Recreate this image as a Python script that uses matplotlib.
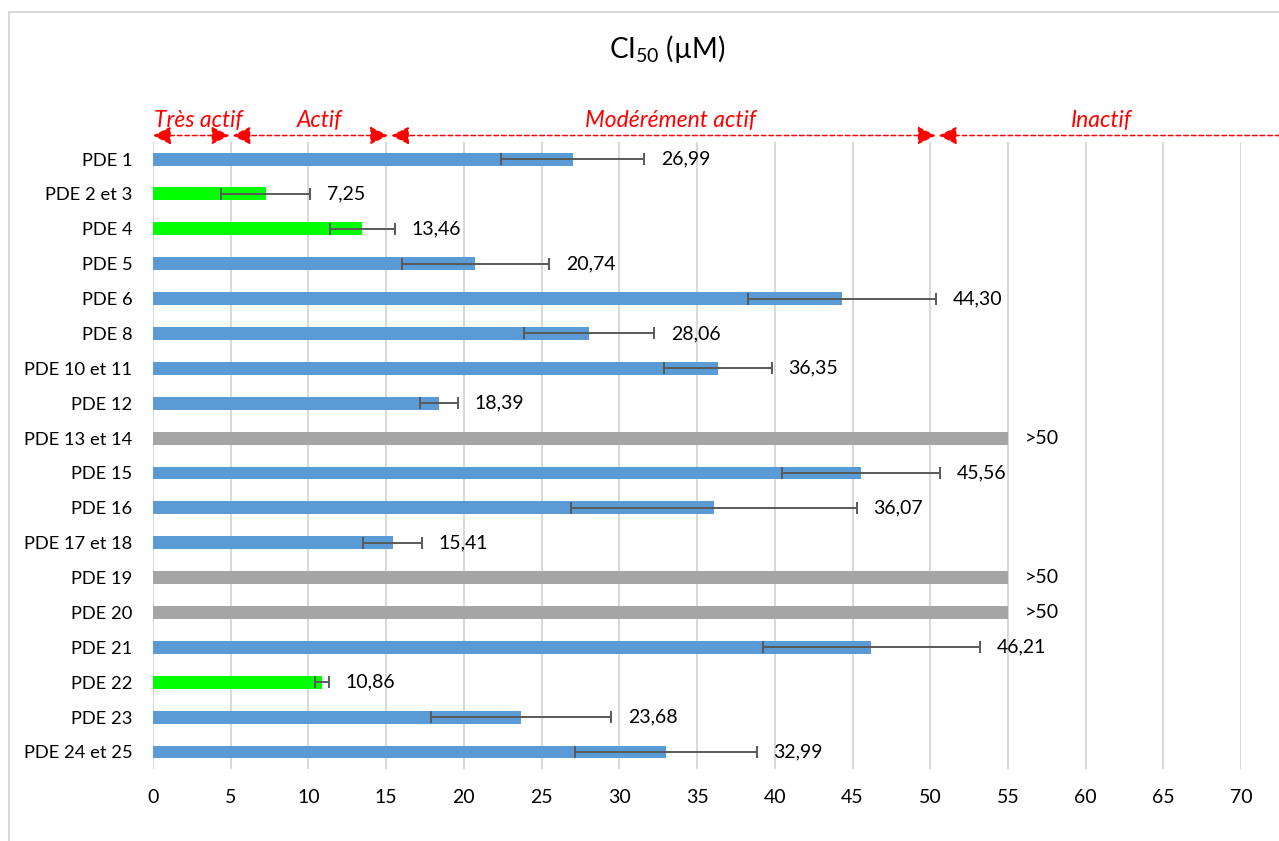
import numpy as np
import matplotlib.pyplot as plt
from matplotlib.patches import Rectangle

plt.rcParams['font.family'] = ['Lato', 'DejaVu Sans']
plt.rcParams['mathtext.fontset'] = 'custom'
plt.rcParams['mathtext.rm'] = 'Lato'
plt.rcParams['mathtext.default'] = 'regular'

# ---------------- donnees ----------------
noms = ['PDE 1', 'PDE 2 et 3', 'PDE 4', 'PDE 5', 'PDE 6', 'PDE 8', 'PDE 10 et 11',
        'PDE 12', 'PDE 13 et 14', 'PDE 15', 'PDE 16', 'PDE 17 et 18', 'PDE 19',
        'PDE 20', 'PDE 21', 'PDE 22', 'PDE 23', 'PDE 24 et 25']
ci50 = [26.99, 7.25, 13.46, 20.74, 44.30, 28.06, 36.35, 18.39, 55, 45.56, 36.07,
        15.41, 55, 55, 46.21, 10.86, 23.68, 32.99]
erreur = [4.6, 2.85, 2.1, 4.75, 6.05, 4.2, 3.45, 1.2, 0, 5.1, 9.2, 1.9, 0, 0,
          7.0, 0.45, 5.8, 5.85]
etiquettes = ['26,99', '7,25', '13,46', '20,74', '44,30', '28,06', '36,35', '18,39', '>50',
              '45,56', '36,07', '15,41', '>50', '>50', '46,21', '10,86', '23,68', '32,99']
groupe = ['m', 't', 'a', 'm', 'm', 'm', 'm', 'm', 'i', 'm', 'm', 'm', 'i', 'i',
          'm', 'a', 'm', 'm']

zones = ['Très actif', 'Actif', 'Modérément actif', 'Inactif']
limites = [0, 5.02, 15.22, 50.45]   # jonctions des fleches telles que dessinees
pos_texte = [2.9, 10.7, 33.3, 61.0]

couleurs = {'m': '#5B9BD5', 't': '#00FF00', 'a': '#00FF00', 'i': '#A5A5A5'}

# ---------------- figure ----------------
fig = plt.figure(figsize=(12.79, 8.41), dpi=100)
ax = fig.add_axes([0.1196, 0.0851, 0.8508, 0.7465])

y = np.arange(len(noms))
cols = [couleurs[g] for g in groupe]
ax.barh(y, ci50, height=0.37, color=cols, zorder=2)

xerr = np.array(erreur)
mask = xerr > 0
ax.errorbar(np.array(ci50)[mask], y[mask], xerr=xerr[mask], fmt='none',
            ecolor='#595959', elinewidth=1.4, capsize=4.3, capthick=1.4, zorder=3)

for i in range(len(noms)):
    fin = ci50[i] + erreur[i]
    ax.annotate(etiquettes[i], xy=(fin, y[i]), xytext=(12, 0), textcoords='offset points',
                va='center', ha='left', fontsize=14, color='black')

ax.set_xlim(0, 70)
ax.set_ylim(len(noms) - 0.5, -0.5)
ax.set_xticks(np.arange(0, 71, 5))
ax.set_yticks(y)
ax.set_yticklabels(noms)
ax.tick_params(axis='both', length=0)
ax.tick_params(axis='y', pad=15, labelsize=13.2)
ax.tick_params(axis='x', pad=14, labelsize=14)
ax.grid(axis='x', color='#D9D9D9', linewidth=1.5, zorder=0)
ax.set_axisbelow(True)
for s in ax.spines.values():
    s.set_visible(False)

# fleches des zones d'activite
yf = 1.0097
trans = ax.get_xaxis_transform()
ecart = 0.1
bords = limites + [72.5]
for k in range(len(zones)):
    a = bords[k] + (ecart if k > 0 else 0)
    b = bords[k + 1] - (ecart if k < len(zones) - 1 else 0)
    if k < len(zones) - 1:
        style = '<|-|>,head_length=1.1,head_width=0.55'
    else:
        style = '-|>,head_length=1.1,head_width=0.55'
    ax.annotate('', xy=(a, yf), xytext=(b, yf), xycoords=trans, textcoords=trans,
                annotation_clip=False,
                arrowprops=dict(arrowstyle=style, color='red', linestyle=(0, (3, 2)),
                                linewidth=1.1, shrinkA=0, shrinkB=0, mutation_scale=10))
    ax.text(pos_texte[k], 1.0233, zones[k], transform=trans, color='red',
            style='italic', fontsize=16.5, ha='center', va='baseline')

fig.text(0.5215, 0.931, 'CI$_{50}$ (µM)', fontsize=20, ha='center', va='baseline')

fig.patches.append(Rectangle((9 / 1279, -0.05), 1.1, 1 - 12 / 841 + 0.05,
                             transform=fig.transFigure, fill=False,
                             edgecolor='#D9D9D9', linewidth=1.5))

fig.savefig('out.png', dpi=100)
